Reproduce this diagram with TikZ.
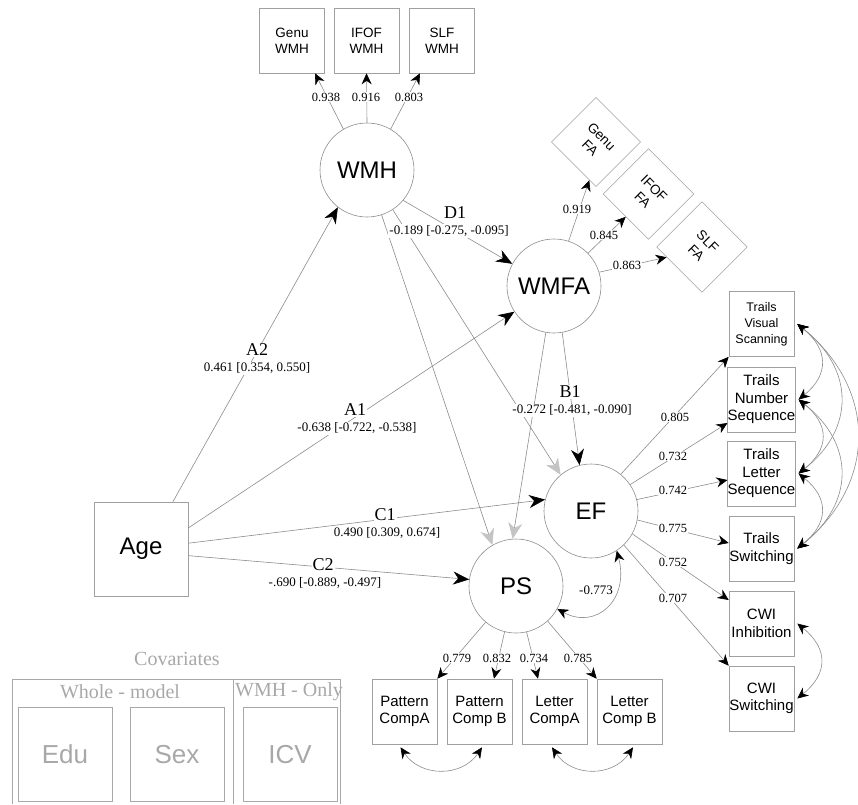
\documentclass[tikz,border=0pt]{standalone}
\usepackage{fontspec}
\setmainfont{Liberation Serif}
\newfontfamily\sansf{Liberation Sans}
\usetikzlibrary{arrows.meta,calc}
\definecolor{ln}{HTML}{8C8C8C}
\definecolor{bx}{HTML}{A0A0A0}
\definecolor{cv}{HTML}{A8A8A8}
\definecolor{ga}{HTML}{C4C4C4}
\begin{document}
\begin{tikzpicture}[x=1pt,y=-1pt,
  lat/.style={circle,draw=ln,line width=0.6pt,minimum size=94pt,inner sep=0pt,font=\sansf\fontsize{24}{28}\selectfont},
  obs/.style={rectangle,draw=bx,line width=0.6pt,minimum size=65pt,inner sep=0pt,align=center,font=\sansf\fontsize{15}{17.5}\selectfont},
  sm/.style={obs,font=\sansf\fontsize{13.5}{16}\selectfont},
  vs/.style={obs,font=\sansf\fontsize{12.5}{16}\selectfont},
  cvb/.style={rectangle,draw=cv,line width=0.6pt,minimum size=94pt,inner sep=0pt,text=cv,font=\sansf\fontsize{26}{30}\selectfont},
  cvt/.style={text=cv,inner sep=1pt,font=\fontsize{20}{22}\selectfont},
  mainarr/.style={draw=ln,line width=0.6pt,-{Stealth[length=16pt,width=13pt,inset=5pt,color=black]}},
  greyarr/.style={draw=ln,line width=0.6pt,-{Stealth[length=16pt,width=14pt,inset=5pt,color=ga]}},
  ind/.style={draw=ln,line width=0.6pt,-{Stealth[length=11pt,width=10pt,inset=3.5pt,color=black]}},
  cov/.style={draw=ln,line width=0.6pt,{Stealth[length=11pt,width=10pt,inset=3.5pt,color=black]}-{Stealth[length=11pt,width=10pt,inset=3.5pt,color=black]}},
  pl/.style={fill=white,inner sep=1pt,font=\fontsize{18}{20}\selectfont},
  pv/.style={fill=white,inner sep=1pt,font=\fontsize{13}{15}\selectfont},
  ll/.style={fill=white,inner sep=1pt,font=\fontsize{12.5}{14}\selectfont}
]
\useasboundingbox (0,0) rectangle (858,804);

% latent variables
\node[lat] (wmh) at (367,170) {WMH};
\node[lat] (wmfa) at (554,286) {WMFA};
\node[lat] (ef) at (591,511) {EF};
\node[lat] (ps) at (516,586) {PS};
\node[obs,minimum size=94pt,font=\sansf\fontsize{24}{28}\selectfont] (age) at (141,549) {Age};

% WMH indicators
\node[sm] (gw) at (292,40.5) {Genu\\WMH};
\node[sm] (iw) at (366.5,40.5) {IFOF\\WMH};
\node[sm] (sw) at (442,40.5) {SLF\\WMH};

% WMFA indicators (rotated)
\node[sm,rotate=-45,minimum size=63pt] (gfa) at (596,142) {Genu\\FA};
\node[sm,rotate=-45,minimum size=64pt] (ifa) at (648.5,194) {IFOF\\FA};
\node[sm,rotate=-45,minimum size=64pt] (sfa) at (702,247) {SLF\\FA};

% EF indicators
\node[vs] (tvs) at (761.5,324) {Trails\\Visual\\Scanning};
\node[obs] (tns) at (761.5,399.5) {Trails\\Number\\Sequence};
\node[obs] (tls) at (761.5,473.5) {Trails\\Letter\\Sequence};
\node[obs] (tsw) at (761.5,548.5) {Trails\\Switching};
\node[obs] (cwi) at (761.5,623.5) {CWI\\Inhibition};
\node[obs] (cws) at (761.5,698.5) {CWI\\Switching};

% PS indicators
\node[obs] (pca) at (404.5,711.5) {Pattern\\CompA};
\node[obs] (pcb) at (479.5,711.5) {Pattern\\Comp B};
\node[obs] (lca) at (554.5,711.5) {Letter\\CompA};
\node[obs] (lcb) at (629.5,711.5) {Letter\\Comp B};

% covariates
\node[cvt] (covt) at (177,659) {Covariates};
\draw[draw=cv,line width=0.6pt] (12,804) -- (12,679) -- (340,679) -- (340,804);
\draw[draw=cv,line width=0.6pt] (233,679) -- (233,804);
\node[cvt] (whm) at (120,692) {Whole - model};
\node[cvt] (wmo) at (289,692) {WMH - Only};
\node[cvb] (edu) at (65,754.5) {Edu};
\node[cvb] (sex) at (177,754.5) {Sex};
\node[cvb] (icv) at (290,754.5) {ICV};

% structural paths
\draw[mainarr] (age.56) -- (wmh.232);
\draw[mainarr] (age.24) -- (wmfa.213);
\draw[mainarr] (age.7) -- (ef.166);
\draw[mainarr] (age.-8) -- (ps.172);
\draw[mainarr] (wmh.-40) -- (wmfa.152);
\draw[mainarr] (wmfa.-80) -- (ef.104);
\draw[greyarr] (wmfa.-100) -- (ps.94);
\draw[greyarr] (wmh.-72) -- (ps.120);
\draw[greyarr] (wmh.-57) -- (ef.130);

% loadings
\draw[ind] (wmh.120) -- ([xshift=23pt]gw.south);
\draw[ind] (wmh.90) -- (iw.south);
\draw[ind] (wmh.60) -- ([xshift=-22pt]sw.south);
\draw[ind] (wmfa.72) -- ($(gfa.south)!0.7!(gfa.south east)$);
\draw[ind] (wmfa.44) -- (ifa.south);
\draw[ind] (wmfa.17) -- ($(sfa.south)!0.55!(sfa.south west)$);
\draw[ind] (ef.51) -- (tvs.south west);
\draw[ind] (ef.34) -- ([yshift=-23.5pt]tns.west);
\draw[ind] (ef.14) -- ([yshift=-6.5pt]tls.west);
\draw[ind] (ef.-11) -- ([yshift=5.5pt]tsw.west);
\draw[ind] (ef.-29) -- ([yshift=23.5pt]cwi.west);
\draw[ind] (ef.-46) -- (cws.north west);
\draw[ind] (ps.230) -- (pca.north east);
\draw[ind] (ps.256) -- ([xshift=14.5pt]pcb.north);
\draw[ind] (ps.283) -- ([xshift=-16.5pt]lca.north);
\draw[ind] (ps.312) -- (lcb.north west);

% covariances
\draw[cov] (ps.-29) .. controls +(38,21) and +(13,50) .. (ef.-57);
\draw[cov] ([xshift=3pt]tvs.east) .. controls +(31,25) and +(31,-25) .. ([xshift=3pt]tns.east);
\draw[cov] ([xshift=3pt]tns.east) .. controls +(31,25) and +(31,-25) .. ([xshift=3pt]tls.east);
\draw[cov] ([xshift=3pt]tls.east) .. controls +(31,25) and +(31,-25) .. ([xshift=3pt]tsw.east);
\draw[cov] ([xshift=3pt]tvs.east) .. controls +(57,45) and +(57,-45) .. ([xshift=3pt]tls.east);
\draw[cov] ([xshift=3pt]tns.east) .. controls +(57,45) and +(57,-45) .. ([xshift=3pt]tsw.east);
\draw[cov] ([xshift=3pt]tvs.east) .. controls +(80,65) and +(80,-65) .. ([xshift=3pt]tsw.east);
\draw[cov] ([xshift=3pt]cwi.east) .. controls +(31,25) and +(31,-25) .. ([xshift=3pt]cws.east);
\draw[cov] ([xshift=-4pt,yshift=-3pt]pca.south) .. controls +(20,30) and +(-20,30) .. ([xshift=2.5pt,yshift=-3pt]pcb.south);
\draw[cov] ([xshift=-2.5pt,yshift=-3pt]lca.south) .. controls +(20,30) and +(-20,30) .. ([xshift=3.5pt,yshift=-3pt]lcb.south);

% path labels
\node[pl] (la2) at (257,350) {A2};
\node[pv] (va2) at (257,368) {0.461 [0.354, 0.550]};
\node[pl] (la1) at (355,410) {A1};
\node[pv] (va1) at (357,428) {-0.638 [-0.722, -0.538]};
\node[pl] (ld1) at (455,213) {D1};
\node[pv] (vd1) at (449,231) {-0.189 [-0.275, -0.095]};
\node[pl] (lb1) at (570,392) {B1};
\node[pv] (vb1) at (572,410) {-0.272 [-0.481, -0.090]};
\node[pl] (lc1) at (385,515) {C1};
\node[pv] (vc1) at (387,533) {0.490 [0.309, 0.674]};
\node[pl] (lc2) at (323,565) {C2};
\node[pv] (vc2) at (325,583) {-.690 [-0.889, -0.497]};
\node[pv] (vcov) at (596,590) {-0.773};

% loading labels
\node[ll] (l1) at (326,97) {0.938};
\node[ll] (l2) at (366,97) {0.916};
\node[ll] (l3) at (409,97) {0.803};
\node[ll] (l4) at (577,209) {0.919};
\node[ll] (l5) at (604,235) {0.845};
\node[ll] (l6) at (627,265) {0.863};
\node[ll] (l7) at (675,417) {0.805};
\node[ll] (l8) at (673,456) {0.732};
\node[ll] (l9) at (673,490) {0.742};
\node[ll] (l10) at (673,528) {0.775};
\node[ll] (l11) at (673,562) {0.752};
\node[ll] (l12) at (673,598) {0.707};
\node[ll] (l13) at (457,658) {0.779};
\node[ll] (l14) at (497,658) {0.832};
\node[ll] (l15) at (534,658) {0.734};
\node[ll] (l16) at (578,658) {0.785};
\end{tikzpicture}
\end{document}
